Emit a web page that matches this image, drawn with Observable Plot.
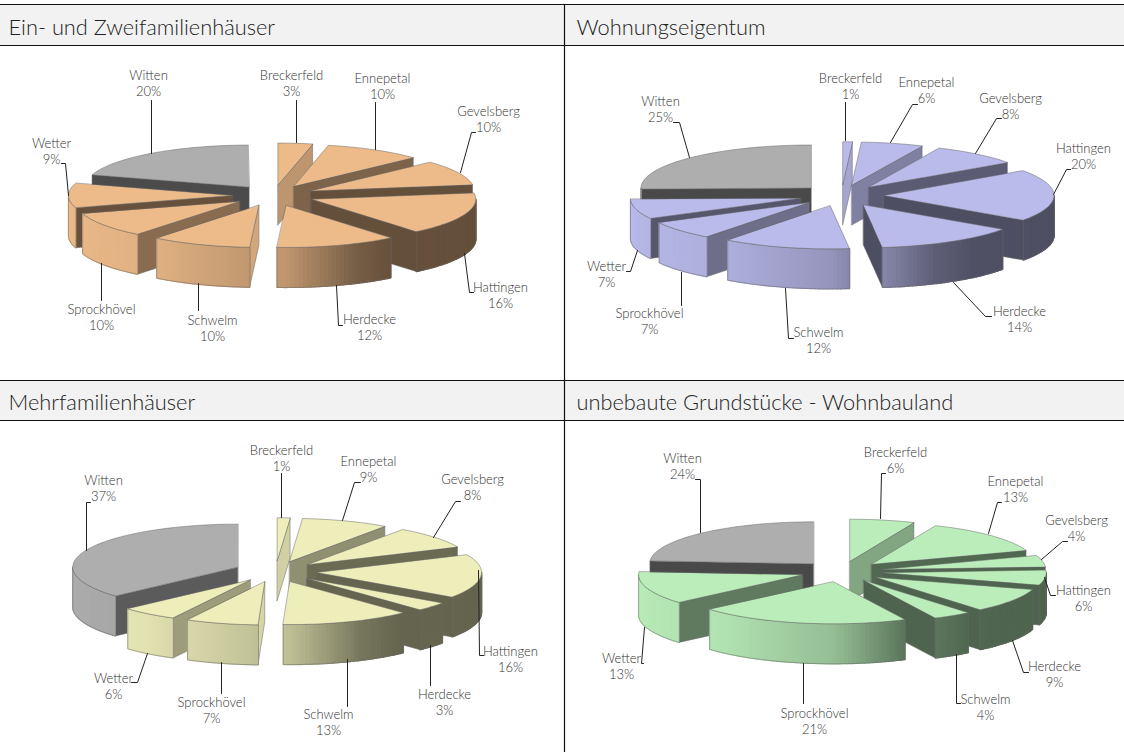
<!DOCTYPE html>
<html><head><meta charset="utf-8">
<style>html,body{margin:0;padding:0;background:#fff}svg{display:block}</style>
<script src="https://cdn.jsdelivr.net/npm/d3@7"></script>
<script src="https://cdn.jsdelivr.net/npm/@observablehq/plot@0.6"></script>
</head><body><div id="c"></div>
<script>
const cities = ["Breckerfeld","Ennepetal","Gevelsberg","Hattingen","Herdecke","Schwelm","Sprockhövel","Wetter","Witten"];
const titles = ["Ein- und Zweifamilienhäuser","Wohnungseigentum","Mehrfamilienhäuser","unbebaute Grundstücke - Wohnbauland"];
const valuesEinZwei = [3.4,9.6,9.6,16.4,11.9,9.8,9.6,9.4,20.2];
const valuesWohnung = [0.9,5.9,8.4,19.5,13.5,12.1,6.9,7.4,25.4];
const valuesMehr    = [1.25,8.55,8.4,16.45,3.3,12.7,7.1,5.55,36.7];
const valuesBauland = [6.4,13.2,4.4,5.7,9.3,3.8,20.8,12.5,23.9];

// layout only: pie placement, colour, header position
const layout = [
  {values:valuesEinZwei, cx:273, cy:195, rx:164, ry:42, top:"#edbb8a", tx:8,   ty:28},
  {values:valuesWohnung, cx:841, cy:195, rx:170, ry:43, top:"#babaeb", tx:576, ty:28},
  {values:valuesMehr,    cx:275, cy:571, rx:165, ry:43, top:"#eeeebb", tx:8,   ty:403},
  {values:valuesBauland, cx:841, cy:571, rx:164, ry:42, top:"#baedba", tx:576, ty:403}
];
// label block centre and leader polyline per city, per panel
const labelPos = [
 [[291,84],[382,87],[488,120],[500,296],[369,328],[212,329],[101,318],[51,152],[148,84]],
 [[850,87],[926,91],[1010,107],[1083,157],[1019,320],[818,341],[649,322],[606,275],[660,110]],
 [[281,459],[368,470],[472,488],[510,660],[444,703],[328,723],[211,711],[113,687],[103,489]],
 [[895,461],[1015,490],[1076,529],[1083,599],[1054,675],[985,708],[814,722],[621,667],[682,467]]
];
const leaders = [
 [[[296,100],[296,142]],[[375,102],[375,149]],[[475,132],[471,132],[460,172]],[[473,292],[469,292],[464,253]],[[342,325],[338,325],[336,285]],[[198,310],[198,283]],[[101,300],[101,263]],[[61,163],[65,163],[68,195]],[[151,100],[151,153]]],
 [[[845,102],[845,140]],[[917,104],[912,104],[890,142]],[[1001,118],[996,118],[975,153]],[[1070,169],[1066,169],[1053,194]],[[991,316],[985,316],[953,282]],[[793,338],[788,338],[785,288]],[[681,305],[681,272]],[[626,271],[630,271],[637,250]],[[673,122],[679,122],[689,157]]],
 [[[281,473],[281,517]],[[360,482],[354,482],[342,520]],[[460,501],[455,501],[433,537]],[[483,655],[479,655],[478,570]],[[430,685],[430,645]],[[347,706],[347,659]],[[221,693],[221,662]],[[131,682],[137,682],[147,653]],[[90,502],[86,502],[86,550]]],
 [[[885,473],[881,473],[880,518]],[[1001,502],[997,502],[988,533]],[[1067,541],[1062,541],[1041,559]],[[1055,595],[1050,595],[1044,577]],[[1028,672],[1023,672],[1012,640]],[[960,703],[956,703],[956,654]],[[803,703],[803,663]],[[643,663],[641,663],[644,627]],[[695,479],[700,479],[700,532]]]
];
const depth = 40, explode = 0.25, gray = "#aeaeae", edge = "#666666";

const rad = d => d*Math.PI/180;
const shade = (c,k) => {const r=d3.rgb(c); return d3.rgb(r.r*k,r.g*k,r.b*k).formatHex();};
const cutK = a => 0.42 + 0.5*Math.pow(1-Math.abs(Math.sin(rad(a))),1.17);
const wallK = d3.scaleLinear().domain([90,140,155,180,220,270]).range([.42,.43,.5,.8,.95,1]).clamp(true);

const pts = []; let fid = 0;
function face(points, fill, stroke, sw){ const id=fid++; points.forEach(p=>pts.push({id,x:p[0],y:p[1],fill,stroke,sw})); }

layout.forEach(P=>{
  let cum=0;
  const slices = P.values.map((v,i)=>{const a0=cum*3.6; cum+=v; return {i,a0,a1:cum*3.6,mid:(a0+cum*3.6)/2};});
  slices.sort((s,t)=>(-Math.cos(rad(s.mid)))-(-Math.cos(rad(t.mid))));
  slices.forEach(s=>{
    const col = s.i===8 ? gray : P.top;
    const ax = P.cx + explode*P.rx*Math.sin(rad(s.mid));
    const ay = P.cy - explode*P.ry*Math.cos(rad(s.mid));
    const at = a => [ax+P.rx*Math.sin(rad(a)), ay-P.ry*Math.cos(rad(a))];
    const quad = a => {const q=at(a); return [[ax,ay],q,[q[0],q[1]+depth],[ax,ay+depth]];};
    if (Math.sin(rad(s.a0))<0) face(quad(s.a0), shade(col,cutK(s.a0)), edge, .5);
    if (Math.sin(rad(s.a1))>0) face(quad(s.a1), shade(col,s.a1>90?.42:cutK(s.a1)), edge, .5);
    const w0=Math.max(s.a0,90), w1=Math.min(s.a1,270);
    if (w1>w0){
      const n=Math.max(2,Math.ceil((w1-w0)/1.5));
      const A=d3.range(n+1).map(j=>w0+(w1-w0)*j/n);
      for(let j=0;j<n;j++){
        const p=at(A[j]), q=at(A[j+1]);
        const c=shade(col,wallK((A[j]+A[j+1])/2));
        face([p,q,[q[0],q[1]+depth],[p[0],p[1]+depth]], c, c, 1.3);
      }
      const arc=A.map(at);
      face([...arc,...arc.slice().reverse().map(p=>[p[0],p[1]+depth])], "none", edge, .5);
    }
    const n=Math.max(2,Math.ceil((s.a1-s.a0)/2));
    const top=[[ax,ay],...d3.range(n+1).map(j=>at(s.a0+(s.a1-s.a0)*j/n))];
    face(top, col, edge, .5);
  });
});

const labels = layout.flatMap((P,p)=>cities.map((c,i)=>({text:c+"\n"+Math.round(P.values[i])+"%",x:labelPos[p][i][0],y:labelPos[p][i][1]-2})));
const leaderPts = leaders.flatMap((L,p)=>L.flatMap((pl,i)=>pl.map(q=>({id:p*100+i,x:q[0],y:q[1]}))));
const headers = [[0,4,564,45],[564,4,1124,45],[0,380,564,420],[564,380,1124,420]].map(b=>({x1:b[0],y1:b[1],x2:b[2],y2:b[3]}));

const chart = Plot.plot({
  width:1124,height:752,margin:0,
  x:{domain:[0,1124],range:[0,1124],axis:null},
  y:{domain:[0,752],range:[0,752],axis:null},
  color:{type:"identity"},
  style:{background:"#fff",fontFamily:"Lato, sans-serif"},
  marks:[
    Plot.rect(headers,{x1:"x1",x2:"x2",y1:"y1",y2:"y2",fill:"#f2f2f2"}),
    Plot.ruleY([4,45,380,420],{stroke:"#111",strokeWidth:1.2}),
    Plot.ruleX([564],{y1:4,y2:752,stroke:"#111",strokeWidth:1.2}),
    Plot.text(layout.map((P,i)=>({t:titles[i],x:P.tx,y:P.ty})),{x:"x",y:"y",text:"t",textAnchor:"start",fontSize:21.8,fill:"#222",fontWeight:300}),
    Plot.line(pts,{x:"x",y:"y",z:"id",fill:"fill",stroke:"stroke",strokeWidth:"sw",curve:"linear-closed",strokeLinejoin:"round"}),
    Plot.line(leaderPts,{x:"x",y:"y",z:"id",stroke:"#222",strokeWidth:1}),
    Plot.text(labels,{x:"x",y:"y",text:"text",fontSize:13,lineHeight:1.23,fill:"#333",fontWeight:300})
  ]
});
document.getElementById("c").appendChild(chart);
</script></body></html>
